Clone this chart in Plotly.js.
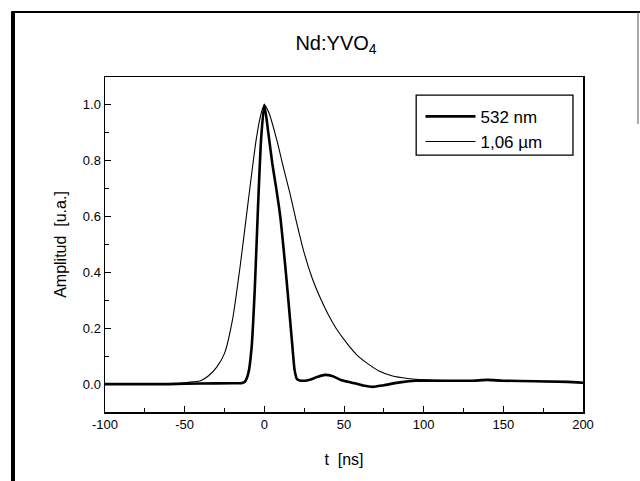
<!DOCTYPE html>
<html>
<head>
<meta charset="utf-8">
<script src="https://cdn.plot.ly/plotly-3.0.1.min.js"></script>
<style>html,body{margin:0;padding:0;background:#fff;}#chart{width:640px;height:481px;}</style>
</head>
<body>
<div id="chart"></div>
<script>
// 532 nm (thick line)
const t532 = [-100, -80, -60, -40, -20, -14, -12, -10, -8, -6, -4, -2, 0, 2.5, 5, 7.5, 10, 12, 14, 16, 17.6, 19, 20.5, 23, 28, 33, 38, 43, 48, 55, 62, 68, 75, 85, 95, 110, 130, 140, 150, 170, 190, 200];
const a532 = [0, 0, 0, 0.002, 0.003, 0.004, 0.01, 0.04, 0.13, 0.34, 0.63, 0.88, 1.0, 0.9, 0.79, 0.7, 0.6, 0.49, 0.37, 0.24, 0.136, 0.05, 0.018, 0.012, 0.015, 0.025, 0.033, 0.028, 0.015, 0.005, -0.005, -0.01, -0.004, 0.006, 0.012, 0.012, 0.012, 0.015, 0.012, 0.01, 0.008, 0.005];
// 1,06 um (thin line)
const t106 = [-100, -80, -60, -50, -45, -40, -35, -30, -25, -20, -15, -10, -5, -2, 0, 3, 8, 12, 16, 20, 25, 30, 35, 40, 45, 52, 58, 64, 72, 80, 90, 100, 120, 140, 160, 180, 200];
const a106 = [0, 0, 0.002, 0.005, 0.008, 0.012, 0.03, 0.06, 0.11, 0.23, 0.43, 0.66, 0.88, 0.97, 1.0, 0.97, 0.87, 0.775, 0.685, 0.585, 0.47, 0.38, 0.31, 0.25, 0.2, 0.145, 0.105, 0.077, 0.047, 0.03, 0.02, 0.015, 0.012, 0.013, 0.01, 0.008, 0.005];
const seriesNames = ['532 nm', '1,06 \u00b5m'];
const xTickVals = [-100, -50, 0, 50, 100, 150, 200];
const yTickVals = [0.0, 0.2, 0.4, 0.6, 0.8, 1.0];

const traces = [
  {x: t532, y: a532, name: seriesNames[0], type: 'scatter', mode: 'lines',
   line: {color: '#000', width: 2.6, shape: 'spline', smoothing: 0.6}},
  {x: t106, y: a106, name: seriesNames[1], type: 'scatter', mode: 'lines',
   line: {color: '#000', width: 1.1, shape: 'spline', smoothing: 0.6}}
];

const font = {family: '"Liberation Sans", Arial, sans-serif', color: '#000'};
const layout = {
  width: 640, height: 481,
  margin: {l: 105, r: 57, t: 77, b: 69},
  paper_bgcolor: '#fff', plot_bgcolor: '#fff',
  font: Object.assign({size: 13}, font),
  showlegend: true,
  title: {text: 'Nd:YVO<sub>4</sub>', font: Object.assign({size: 20}, font),
          x: 0.525, xanchor: 'center', xref: 'container', y: 0.91, yanchor: 'middle', yref: 'container'},
  xaxis: {range: [-100, 200], tickvals: xTickVals, ticktext: xTickVals.map(String),
          ticks: 'inside', ticklen: 6, tickwidth: 1, tickcolor: '#000',
          minor: {dtick: 25, tick0: -100, ticks: 'inside', ticklen: 4, tickcolor: '#000', showgrid: false},
          showline: true, linecolor: '#000', linewidth: 1.5, mirror: true,
          showgrid: false, zeroline: false,
          tickfont: Object.assign({size: 13}, font),
          title: {text: 't  [ns]', font: Object.assign({size: 16}, font), standoff: 22}},
  yaxis: {range: [-0.1, 1.1], tickvals: yTickVals, ticktext: yTickVals.map(v => v.toFixed(1)),
          ticks: 'inside', ticklen: 6, tickwidth: 1, tickcolor: '#000',
          minor: {dtick: 0.1, tick0: 0, ticks: 'inside', ticklen: 4, tickcolor: '#000', showgrid: false},
          showline: true, linecolor: '#000', linewidth: 1.5, mirror: true,
          showgrid: false, zeroline: false,
          tickfont: Object.assign({size: 13}, font),
          title: {text: 'Amplitud  [u.a.]', font: Object.assign({size: 16}, font), standoff: 12}},
  legend: {x: 0.66, y: 0.935, xanchor: 'left', yanchor: 'top',
           borderwidth: 0, bgcolor: 'rgba(0,0,0,0)',
           font: Object.assign({size: 17}, font), itemwidth: 50, tracegroupgap: 0},
  shapes: [
    {type: 'rect', xref: 'paper', yref: 'paper', x0: 0.651, x1: 0.979, y0: 0.767, y1: 0.946, line: {color: '#000', width: 1.3}},
    {type: 'line', xref: 'paper', yref: 'paper', x0: -0.1925, x1: -0.1925, y0: 1.194, y1: -0.21, line: {color: '#000', width: 4}},
    {type: 'line', xref: 'paper', yref: 'paper', x0: -0.196, x1: 1.12, y0: 1.194, y1: 1.194, line: {color: '#000', width: 2}},
    {type: 'line', xref: 'paper', yref: 'paper', x0: 1.115, x1: 1.115, y0: 1.194, y1: 0.86, line: {color: '#555', width: 1}}
  ]
};
Plotly.newPlot('chart', traces, layout, {staticPlot: true, displayModeBar: false});
</script>
</body>
</html>
